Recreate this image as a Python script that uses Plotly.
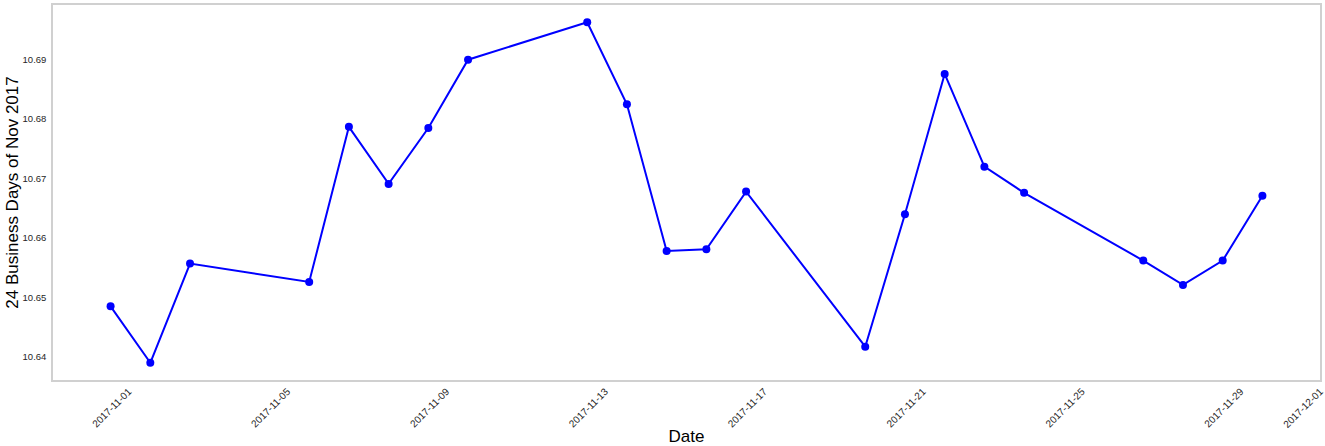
import plotly.graph_objects as go

dates = ["2017-11-01", "2017-11-02", "2017-11-03", "2017-11-06", "2017-11-07",
         "2017-11-08", "2017-11-09", "2017-11-10", "2017-11-13", "2017-11-14",
         "2017-11-15", "2017-11-16", "2017-11-17", "2017-11-20", "2017-11-21",
         "2017-11-22", "2017-11-23", "2017-11-24", "2017-11-27", "2017-11-28",
         "2017-11-29", "2017-11-30"]
values = [10.6485, 10.6390, 10.6557, 10.6526, 10.6787,
          10.6691, 10.6785, 10.6900, 10.6963, 10.6825,
          10.6578, 10.6581, 10.6678, 10.6417, 10.6640,
          10.6876, 10.6720, 10.6676, 10.6562, 10.6521,
          10.6562, 10.6671]
x_ticks = ["2017-11-01", "2017-11-05", "2017-11-09", "2017-11-13", "2017-11-17",
           "2017-11-21", "2017-11-25", "2017-11-29", "2017-12-01"]
y_ticks = [10.64, 10.65, 10.66, 10.67, 10.68, 10.69]

fig = go.Figure()
fig.add_trace(go.Scatter(
    x=dates, y=values, mode="lines+markers",
    line=dict(color="#0000FF", width=2),
    marker=dict(color="#0000FF", size=8),
    showlegend=False,
))

fig.update_layout(
    width=1325, height=446,
    margin=dict(l=53, r=5, t=5, b=66),
    paper_bgcolor="white", plot_bgcolor="white",
    font=dict(family="Liberation Sans, Arial, sans-serif", color="#262626"),
)
fig.update_xaxes(
    type="date",
    range=["2017-10-30 13:12", "2017-12-01 10:48"],
    tickvals=x_ticks, ticktext=x_ticks,
    tickangle=-45, tickfont=dict(size=10, color="#262626"),
    ticklabelshift=18, ticklabelstandoff=0, ticklabeloverflow="allow",
    showgrid=False, zeroline=False,
    showline=True, mirror=True, linecolor="#d0d0d0", linewidth=1.5,
    ticks="", automargin=False,
    title=dict(text="Date", font=dict(size=17, color="#000000"), standoff=2),
)
fig.update_yaxes(
    range=[10.6361, 10.6992],
    tickvals=y_ticks, ticktext=[f"{v:.2f}" for v in y_ticks],
    tickfont=dict(size=9.5, color="#262626"),
    showgrid=False, zeroline=False,
    showline=True, mirror=True, linecolor="#d0d0d0", linewidth=1.5,
    ticks="", automargin=False, ticklabelstandoff=3,
    title=dict(text="24 Business Days of Nov 2017", font=dict(size=17, color="#000000"), standoff=0),
)

fig.write_html(
    "out.html",
    config={"displayModeBar": False},
    post_script="document.body.style.margin='0';document.body.style.overflow='hidden';",
)
